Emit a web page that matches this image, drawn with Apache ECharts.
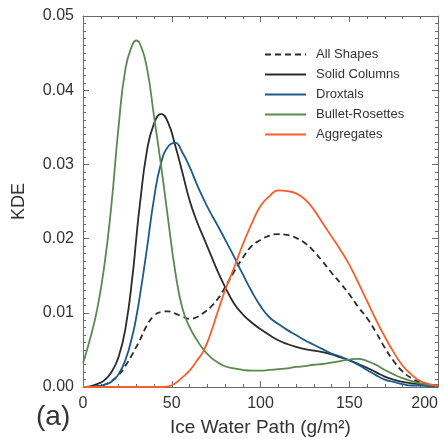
<!DOCTYPE html>
<html>
<head>
<meta charset="utf-8">
<script src="https://cdn.jsdelivr.net/npm/echarts@6/dist/echarts.min.js"></script>
<style>
  html, body { margin: 0; padding: 0; background: #fff; }
  #chart { width: 444px; height: 439px; }
</style>
</head>
<body>
<div id="chart"></div>
<script>
// ice water path sample points (g/m2)
var xs = [0, 4, 8, 12, 16, 20, 24, 28, 30, 32, 36, 40, 44, 48, 52, 56, 60, 64, 68, 72, 76, 80,
  85, 90, 95, 100, 105, 110, 115, 120, 125, 130, 135, 140, 145, 150, 155, 160, 165, 170,
  175, 180, 185, 190, 195, 200];

// KDE values
var allShapes = [0, 0, 0.0001, 0.0003, 0.0008, 0.0016, 0.0029, 0.0045, 0.0054, 0.0063, 0.0083,
  0.0096, 0.0101, 0.0102, 0.0099, 0.0095, 0.0092, 0.0094, 0.0100, 0.0108, 0.0119, 0.0134,
  0.0155, 0.0174, 0.0190, 0.0198, 0.0204, 0.0206, 0.0205, 0.0201, 0.0194, 0.0183, 0.0169,
  0.0154, 0.0140, 0.0125, 0.0108, 0.0093, 0.0074, 0.0053, 0.0035, 0.0021, 0.0012, 0.0006,
  0.0003, 0.0002];
var solidColumns = [0, 0.0001, 0.0004, 0.0009, 0.0020, 0.0040, 0.0080, 0.0152, 0.0200, 0.0245,
  0.0318, 0.0355, 0.0368, 0.0356, 0.0325, 0.0289, 0.0252, 0.0224, 0.0201, 0.0178, 0.0155,
  0.0135, 0.0113, 0.0098, 0.0087, 0.0078, 0.0070, 0.0063, 0.0058, 0.0054, 0.0051, 0.0049,
  0.0047, 0.0044, 0.0040, 0.0036, 0.0031, 0.0026, 0.0020, 0.0014, 0.0010, 0.0007, 0.0005,
  0.0004, 0.0003, 0.0002];
var droxtals = [0, 0.00003, 0.0001, 0.0003, 0.0007, 0.0017, 0.0037, 0.0071, 0.0094, 0.0122,
  0.0186, 0.0254, 0.0302, 0.0324, 0.0329, 0.0316, 0.0297, 0.0274, 0.0253, 0.0234, 0.0217,
  0.0199, 0.0176, 0.0152, 0.0129, 0.0109, 0.0094, 0.0085, 0.0077, 0.0070, 0.0063, 0.0057,
  0.0051, 0.0045, 0.0041, 0.0036, 0.0030, 0.0023, 0.0016, 0.0010, 0.0007, 0.0004, 0.0002,
  0.0002, 0.0001, 0.0001];
var bulletRosettes = [0.0032, 0.0065, 0.0105, 0.0163, 0.0245, 0.0350, 0.0430, 0.0462, 0.0467,
  0.0463, 0.0430, 0.0365, 0.0298, 0.0225, 0.0155, 0.0106, 0.0081, 0.0064, 0.0050, 0.0040,
  0.0033, 0.0028, 0.0025, 0.0023, 0.0022, 0.0022, 0.0023, 0.0024, 0.0025, 0.0027, 0.0028,
  0.0030, 0.0031, 0.0033, 0.0035, 0.0037, 0.0038, 0.0035, 0.0030, 0.0023, 0.0017, 0.0012,
  0.0008, 0.0005, 0.0003, 0.0002];
var aggregates = [0, 0, 0, 0, 0, 0, 0, 0, 0, 0, 0, 0, 0, 0.0001, 0.0005, 0.0013, 0.0022, 0.0035,
  0.0049, 0.0073, 0.0102, 0.0130, 0.0160, 0.0192, 0.0220, 0.0244, 0.0257, 0.0265, 0.0264,
  0.0261, 0.0253, 0.0239, 0.0221, 0.0203, 0.0185, 0.0165, 0.0141, 0.0116, 0.0091, 0.0068,
  0.0047, 0.0029, 0.0017, 0.0008, 0.0004, 0.0002];

var names = ['All Shapes', 'Solid Columns', 'Droxtals', 'Bullet-Rosettes', 'Aggregates'];
var colors = ['#2b2b2b', '#2b2b2b', '#1d5a8e', '#5b8a4e', '#f4602c'];
var values = [allShapes, solidColumns, droxtals, bulletRosettes, aggregates];

var font = '"Liberation Sans", Arial, Helvetica, sans-serif';
var frame = '#6a6a6a';

function pairs(arr) {
  return xs.map(function (x, i) { return [x, arr[i]]; });
}

// shared look for the four frame axes: ticks pointing into the plot
function frameAxis(extra, minorSplit) {
  return Object.assign({
    type: 'value',
    axisLine: { show: true, onZero: false, lineStyle: { color: frame, width: 1 } },
    axisTick: { show: true, inside: true, length: 6, lineStyle: { color: frame } },
    minorTick: { show: true, splitNumber: minorSplit, length: 3, lineStyle: { color: frame } },
    splitLine: { show: false }
  }, extra);
}

var chart = echarts.init(document.getElementById('chart'));

chart.setOption({
  animation: false,
  backgroundColor: '#fff',
  grid: { left: 83, right: 6, top: 16, bottom: 52, containLabel: false, outerBoundsMode: 'none' },
  legend: {
    orient: 'vertical',
    left: 259,
    top: 43,
    itemWidth: 41,
    itemHeight: 14,
    itemGap: 7,
    data: names,
    itemStyle: { opacity: 0 },
    textStyle: { fontFamily: font, fontSize: 13, color: '#333', padding: [0, 0, 0, 5] }
  },
  xAxis: [
    frameAxis({
      min: 0, max: 200, interval: 50,
      axisLabel: { fontFamily: font, fontSize: 16, color: '#333', margin: 9, alignMaxLabel: 'right' },
      name: 'Ice Water Path (g/m²)',
      nameLocation: 'middle',
      nameGap: 31,
      nameTextStyle: { fontFamily: font, fontSize: 19, color: '#333' }
    }, 5),
    frameAxis({
      min: 0, max: 200, interval: 50, position: 'top',
      axisLabel: { show: false }
    }, 5)
  ],
  yAxis: [
    frameAxis({
      min: 0, max: 0.05, interval: 0.01,
      axisLabel: {
        fontFamily: font, fontSize: 16, color: '#333', margin: 9,
        formatter: function (v) { return v.toFixed(2); }
      },
      name: 'KDE',
      nameLocation: 'middle',
      nameGap: 55,
      nameTextStyle: { fontFamily: font, fontSize: 18, color: '#333' }
    }, 10),
    frameAxis({
      min: 0, max: 0.05, interval: 0.01, position: 'right',
      axisLabel: { show: false }
    }, 10)
  ],
  graphic: [{
    type: 'text',
    left: 36,
    top: 403,
    style: { text: '(a)', fontFamily: font, fontSize: 28, fill: '#333' }
  }],
  series: values.map(function (arr, i) {
    return {
      name: names[i],
      type: 'line',
      data: pairs(arr),
      smooth: 0.5,
      symbol: 'none',
      color: colors[i],
      lineStyle: { width: 1.8, color: colors[i], type: i === 0 ? [6, 4] : 'solid' }
    };
  })
});
</script>
</body>
</html>
